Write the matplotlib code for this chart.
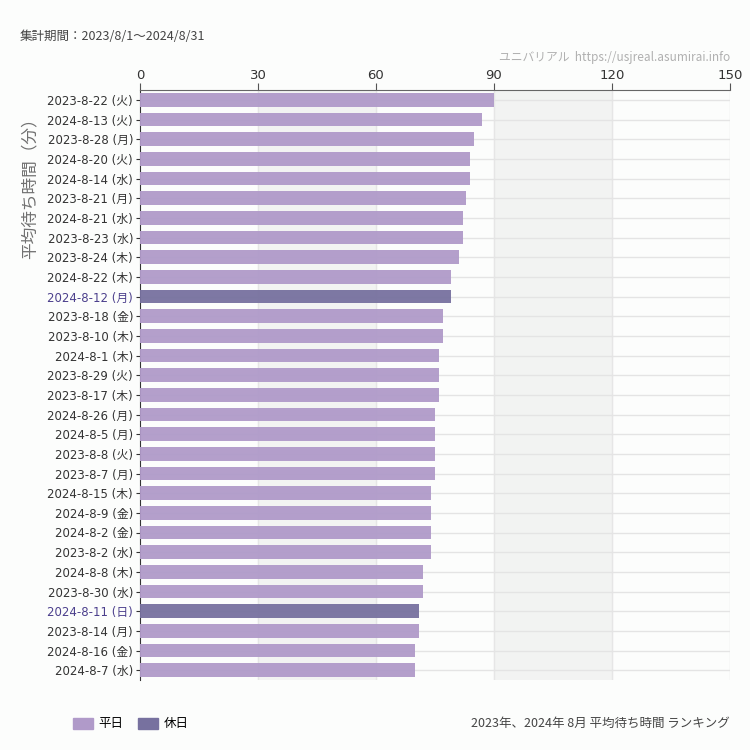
import matplotlib
matplotlib.use("Agg")
import matplotlib.pyplot as plt
from matplotlib.patches import Patch

plt.rcParams['font.family'] = ['Noto Sans CJK JP', 'DejaVu Sans']

# データ（平均待ち時間ランキング）
DATES = [
    "2023-8-22 (火)", "2024-8-13 (火)", "2023-8-28 (月)", "2024-8-20 (火)",
    "2024-8-14 (水)", "2023-8-21 (月)", "2024-8-21 (水)", "2023-8-23 (水)",
    "2023-8-24 (木)", "2024-8-22 (木)", "2024-8-12 (月)", "2023-8-18 (金)",
    "2023-8-10 (木)", "2024-8-1 (木)", "2023-8-29 (火)", "2023-8-17 (木)",
    "2024-8-26 (月)", "2024-8-5 (月)", "2023-8-8 (火)", "2023-8-7 (月)",
    "2024-8-15 (木)", "2024-8-9 (金)", "2024-8-2 (金)", "2023-8-2 (水)",
    "2024-8-8 (木)", "2023-8-30 (水)", "2024-8-11 (日)", "2023-8-14 (月)",
    "2024-8-16 (金)", "2024-8-7 (水)",
]
WAIT_MIN = [90, 87, 85, 84, 84, 83, 82, 82, 81, 79,
            79, 77, 77, 76, 76, 76, 75, 75, 75, 75,
            74, 74, 74, 74, 72, 72, 71, 71, 70, 70]
HOLIDAYS = ["2024-8-12 (月)", "2024-8-11 (日)"]
X_TICKS = [0, 30, 60, 90, 120, 150]

COL_WEEKDAY = "#b09ac9"
COL_HOLIDAY = "#77719f"
COL_HOLIDAY_TXT = "#4b3f8c"
BG = "#fcfdfc"
TICK_FONT = ['DejaVu Sans', 'Noto Sans CJK JP']

fig = plt.figure(figsize=(7.5, 7.5), dpi=100, facecolor=BG)
ax = fig.add_axes([140 / 750, 1 - 680 / 750, 590 / 750, 590 / 750])
ax.set_facecolor(BG)

n = len(DATES)
ypos = list(range(n))
colors = [COL_HOLIDAY if d in HOLIDAYS else COL_WEEKDAY for d in DATES]
ax.barh(ypos, WAIT_MIN, height=0.7, color=colors, alpha=0.95, zorder=3)

ax.set_xlim(0, 150)
ax.set_ylim(n - 0.5, -0.5)

# 背景の帯とグリッド
for i in range(len(X_TICKS) - 1):
    if i % 2 == 1:
        ax.axvspan(X_TICKS[i], X_TICKS[i + 1], color="#f2f3f2", zorder=0)
for x in X_TICKS[1:]:
    ax.axvline(x, color="#e6e6e6", lw=1, zorder=1)
for k in ypos:
    ax.axhline(k, color="#e4e4e4", lw=1, zorder=1)

ax.xaxis.tick_top()
ax.set_xticks(X_TICKS)
ax.set_xticklabels([str(t) for t in X_TICKS], fontsize=9.5, color="#333333",
                   family=TICK_FONT)
ax.tick_params(axis="x", length=5, color="#555555", pad=1)
ax.set_yticks(ypos)
ax.set_yticklabels(DATES, fontsize=8.5, color="#333333", family=TICK_FONT)
ax.tick_params(axis="y", length=3, color="#333333", pad=2)
for lbl in ax.get_yticklabels():
    if lbl.get_text() in HOLIDAYS:
        lbl.set_color(COL_HOLIDAY_TXT)

for s in ["right", "bottom"]:
    ax.spines[s].set_visible(False)
ax.spines["top"].set_color("#666666")
ax.spines["left"].set_color("#333333")

ax.set_ylabel("平均待ち時間（分）", fontsize=12, color="#707070")
ax.yaxis.set_label_coords(-0.172, 0.84)

fig.text(20 / 750, 1 - 37 / 750, "集計期間：2023/8/1〜2024/8/31", fontsize=9,
         color="#444444", va="center", ha="left")
fig.text(730 / 750, 1 - 58 / 750, "ユニバリアル  https://usjreal.asumirai.info",
         fontsize=8.5, color="#b0b0b0", va="center", ha="right")
fig.text(730 / 750, 1 - 723 / 750, "2023年、2024年 8月 平均待ち時間 ランキング",
         fontsize=9, color="#444444", va="center", ha="right")

handles = [Patch(color=COL_WEEKDAY, label="平日"), Patch(color=COL_HOLIDAY, label="休日")]
fig.legend(handles=handles, loc="center left", bbox_to_anchor=(62 / 750, 1 - 724 / 750),
           ncol=2, frameon=False, fontsize=9, handlelength=1.6, handleheight=1.0,
           handletextpad=0.4, columnspacing=1.2)

fig.savefig("out.png", dpi=100, facecolor=BG)
